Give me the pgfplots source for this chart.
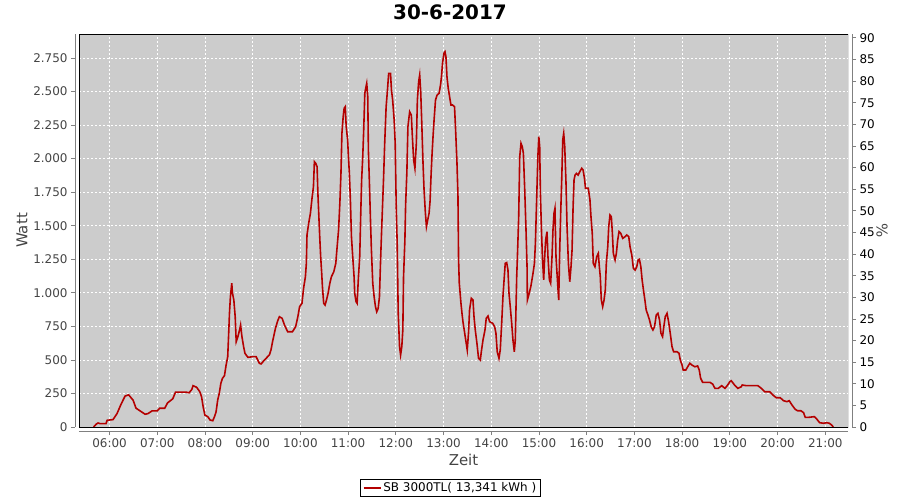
\documentclass[border=0pt]{standalone}
\usepackage{pgfplots}
\pgfplotsset{compat=1.18}
\usepackage{fontspec}
\setmainfont{DejaVu Sans}
\definecolor{bgray}{HTML}{CCCCCC}
\definecolor{axgray}{HTML}{808080}
\definecolor{txtgray}{HTML}{444444}
\definecolor{linered}{HTML}{B40000}

\begin{document}
\begin{tikzpicture}
\useasboundingbox (-79bp,-73bp) rectangle (821bp,427bp);
% title
\node[font=\bfseries\fontsize{20}{24}\selectfont] at (371bp,414.5bp) {30-6-2017};

\begin{axis}[
    at={(0,0)}, anchor=south west,
    scale only axis,
    width=769bp, height=393bp,
    xmin=321.6, xmax=1288.6,
    ymin=0, ymax=2929,
    axis x line*=bottom, axis y line*=left,
    axis x line shift=4bp, axis y line shift=4bp,
    axis line style={-, draw=axgray, line width=0.8bp},
    axis background/.style={fill=bgray},
    tick align=outside,
    major tick length=4bp,
    tick style={draw=axgray, line width=0.8bp},
    xtick={360,420,...,1260},
    xticklabels={06:00,07:00,08:00,09:00,10:00,11:00,12:00,13:00,14:00,15:00,16:00,17:00,18:00,19:00,20:00,21:00},
    ytick={0,250,...,2750},
    scaled y ticks=false,
    yticklabel style={/pgf/number format/.cd, 1000 sep={.}, assume math mode=true},
    ticklabel style={font=\fontsize{12}{14}\selectfont, text=txtgray},
    grid=major,
    major grid style={draw=white, dash pattern=on 2bp off 2bp, line width=0.8bp},
    xlabel={Zeit}, ylabel={Watt},
    label style={font=\fontsize{15}{18}\selectfont, text=txtgray},
    xlabel style={at={(axis description cs:0.5,-0.084)}, anchor=center},
    ylabel style={at={(axis description cs:-0.0741,0.5)}, anchor=center},
    legend style={at={(axis description cs:0.4831,-0.1552)}, anchor=center,
        draw=black, fill=white, font=\fontsize{12}{14}\selectfont,
        inner xsep=2bp, inner ysep=1bp, line width=0.8bp},
    legend cell align=left,
    clip=true,
]
\addplot[linered, line width=1.6bp, mark=none] coordinates {
(340,0) (343,20) (345.5,30) (348,25) (355.6,25) (357,50) (364.4,55) (369.4,100) (374.5,170) (379.5,230) (384,240) (389.6,200) (393.3,140) (398.4,120) (404.7,95) (408.4,100) (413.5,120) (420,120) (423,140) (429.4,140) (433,180) (439.5,210) (443,260) (456,260) (460,255) (463.5,280) (465,308) (469.5,296) (473.5,263) (475.7,226) (477.7,151) (479.9,89) (483.5,77) (486.5,52) (489.8,47) (492,77) (494,114) (496,201) (498,251) (500,326) (502,363) (504.5,382) (506.6,462) (508.6,524) (510,723) (510.8,847) (512,971) (513.7,1071) (514.5,1000) (516.3,946) (518,822) (519.3,636) (521.4,673) (523.5,723) (524.8,760) (526.5,673) (528.6,598) (530.3,549) (534,519) (540,524) (544.3,524) (548.4,475) (550.6,470) (554.7,499) (561,537) (563,574) (565,636) (568.6,735) (571.5,792) (573.6,822) (577,810) (580,760) (584,710) (590,710) (594,747) (596.8,822) (599,897) (602,922) (604,1034) (606.3,1120) (607.5,1220) (608.3,1431) (610.4,1518) (612.6,1593) (614.6,1704) (616.4,1791) (617.6,1977) (619.3,1965) (621,1940) (622,1741) (624.3,1418) (625.5,1269) (626.8,1145) (627.7,1046) (629.3,922) (631,909) (632.8,946) (634.8,996) (637,1071) (639,1120) (642,1157) (644.5,1220) (646.2,1344) (648,1468) (649.6,1667) (651,1890) (652.2,2188) (653.8,2313) (655,2375) (656.4,2387) (657.6,2238) (659.4,2139) (660.4,2014) (661.6,1890) (663,1667) (664.2,1418) (665.8,1269) (667.5,1120) (668.3,996) (670,934) (671.3,922) (673,1120) (674.6,1269) (675.9,1593) (677,1841) (678.4,2014) (679.6,2213) (681,2487) (682.1,2524) (683.4,2561) (684.7,2462) (685.5,2064) (686.8,1816) (688,1567) (689.3,1319) (691,1071) (692.7,971) (694.4,897) (696,859) (697.8,884) (699.4,971) (700.7,1220) (702.3,1493) (704.5,1841) (706,2114) (707.8,2387) (709.5,2512) (711,2636) (713.3,2636) (714.5,2512) (716,2437) (717.9,2288) (719.2,2114) (720.5,1642) (721.7,1369) (723,847) (724.7,598) (726,537) (727.5,598) (728.8,723) (729.7,1120) (731.4,1394) (732.3,1654) (733.9,1903) (735.2,2238) (737.4,2350) (739.5,2325) (740.8,2164) (742.4,1990) (744,1928) (745.8,2114) (747.1,2437) (748.7,2574) (750,2623) (751.3,2499) (752.5,2288) (754.2,1965) (755.5,1766) (757.2,1593) (758.5,1493) (760.1,1543) (761.8,1593) (763,1679) (764.4,1890) (765.6,2039) (766.9,2176) (768.1,2288) (769.9,2437) (771.9,2474) (774.4,2487) (776.2,2549) (777.4,2611) (778.7,2710) (780.5,2785) (781.8,2797) (783,2760) (784.3,2611) (785.9,2524) (787.6,2462) (789.3,2400) (791.3,2400) (793.8,2387) (795,2238) (796.9,1965) (798.1,1729) (798.9,1245) (799.8,1071) (801.9,922) (803.2,847) (804.4,785) (806,723) (808.2,636) (809.8,574) (811.5,710) (812.7,872) (814.9,959) (817,946) (818.3,822) (819.9,723) (822,624) (824,512) (826.2,499) (827.8,574) (829.6,648) (832.1,723) (833.7,810) (835.9,827) (837.9,785) (841.8,773) (844.3,747) (845.9,698) (847.5,561) (849.7,512) (851.3,574) (853.1,773) (854.7,971) (856.4,1120) (857.6,1220) (859.4,1225) (861,1170) (862.3,996) (863.9,897) (865.7,773) (867.3,648) (869,561) (870.2,648) (872,1120) (873.3,1344) (874.5,1567) (875.8,2014) (877.4,2114) (879,2089) (880.4,2039) (882.1,1766) (883.7,1468) (885,1195) (885.4,946) (887.2,984) (889.7,1046) (892.2,1133) (894.3,1220) (895.5,1369) (897.3,1741) (898.6,2014) (899.8,2164) (900.9,2089) (901.8,1741) (903,1493) (904.3,1269) (905.9,1096) (907.2,1269) (908.4,1394) (910.1,1456) (911.3,1269) (913.1,1096) (914.7,1071) (916.4,1269) (917.6,1468) (918.9,1593) (920.1,1630) (921.4,1269) (923.2,1096) (924.8,946) (926.1,1319) (927.3,1593) (928.6,1841) (929.9,2139) (931.1,2188) (932.4,2089) (934,1816) (935.3,1493) (937,1220) (938.7,1083) (940.3,1195) (941.6,1319) (942.9,1642) (944.1,1841) (945.4,1878) (947.1,1890) (949.2,1878) (951.3,1903) (953.8,1928) (955.5,1915) (957.2,1853) (958.5,1779) (962,1779) (964.1,1692) (965.4,1567) (967,1444) (968.3,1220) (970.4,1195) (972.6,1269) (974.6,1294) (975.9,1195) (977.1,1120) (978.4,946) (980.1,897) (981.8,946) (983.4,1021) (984.7,1220) (986.5,1344) (987.7,1493) (989.3,1580) (991,1567) (992.3,1444) (993.5,1294) (995.7,1245) (997.3,1294) (999,1394) (1000.7,1456) (1002.8,1444) (1005.3,1406) (1008.2,1418) (1010.4,1431) (1012.9,1418) (1014.5,1344) (1016.7,1282) (1018.7,1183) (1020.9,1170) (1023,1195) (1024.7,1245) (1026.3,1250) (1028.1,1195) (1029.7,1096) (1031.4,1021) (1033.2,946) (1034.8,872) (1037,835) (1039,797) (1041.1,747) (1043.3,723) (1045.3,747) (1047.5,835) (1049.6,847) (1051.6,797) (1053.4,698) (1055.4,673) (1056.7,735) (1058.8,822) (1061,847) (1063,785) (1065.1,698) (1067.3,598) (1069.3,561) (1073.6,561) (1076.1,549) (1077.7,499) (1079.9,462) (1081.3,425) (1084.7,425) (1087.6,455) (1089.7,475) (1092.3,462) (1096,449) (1099.5,455) (1101.5,425) (1103.3,363) (1105.8,333) (1115,333) (1118.4,320) (1121.3,288) (1125.5,288) (1129.8,308) (1133.9,288) (1137.3,313) (1140,338) (1141.8,345) (1145.9,313) (1150.1,288) (1154.4,300) (1155.6,313) (1160.7,308) (1175.3,308) (1179.6,288) (1183.8,263) (1190.1,263) (1194.2,238) (1198.5,218) (1203.4,218) (1207.5,196) (1211.8,189) (1214.7,196) (1218.1,164) (1222.2,132) (1225.2,121) (1229.4,121) (1232.7,107) (1234.8,72) (1239,72) (1246.2,77) (1249.6,57) (1252.9,32) (1257.9,28) (1261.8,32) (1265,28) (1268,15) (1270,0)
};
\addlegendentry{SB 3000TL( 13,341 kWh )}
\draw[black, line width=0.8bp] (rel axis cs:0,0) rectangle (rel axis cs:1,1);
\end{axis}

\begin{axis}[
    at={(0,0)}, anchor=south west,
    scale only axis,
    width=769bp, height=393bp,
    xmin=321.6, xmax=1288.6,
    ymin=0, ymax=90.9,
    axis x line=none,
    axis y line*=right,
    axis y line shift=4bp,
    axis line style={-, draw=axgray, line width=0.8bp},
    tick align=outside,
    major tick length=4bp,
    tick style={draw=axgray, line width=0.8bp},
    ytick={0,5,...,90},
    yticklabel style={font=\fontsize{12}{14}\selectfont, text=black, /pgf/number format/assume math mode=true},
    ylabel={\%},
    ylabel style={font=\fontsize{15}{18}\selectfont, text=txtgray, at={(axis description cs:1.0442,0.5)}, anchor=center, rotate=180},
]
\end{axis}
\end{tikzpicture}
\end{document}
